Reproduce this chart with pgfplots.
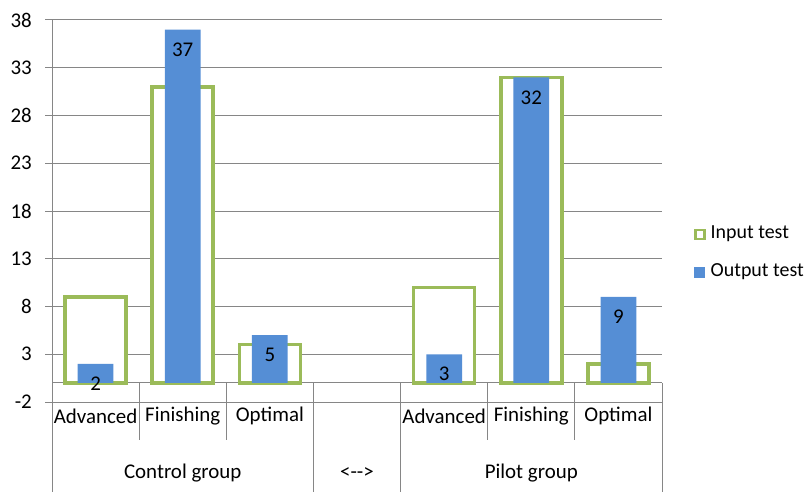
\documentclass[border=0pt]{standalone}
\usepackage{fontspec}
\setmainfont{Carlito}
\usepackage{pgfplots}
\pgfplotsset{compat=1.18}
\definecolor{ingreen}{RGB}{155,187,89}
\definecolor{outblue}{RGB}{85,142,213}
\definecolor{gridgray}{RGB}{134,134,134}
\begin{document}
\fontsize{21}{25}\selectfont
\begin{tikzpicture}
\begin{axis}[
  scale only axis,
  width=610bp, height=382bp,
  xmin=-0.5, xmax=6.5,
  ymin=-2, ymax=38,
  ytick={-2,3,8,13,18,23,28,33,38},
  xtick=\empty,
  ymajorgrids,
  grid style={gridgray, line width=1bp},
  axis line style={draw=none},
  tick pos=left,
  tick align=outside,
  major tick length=7bp,
  every tick/.style={gridgray, line width=1bp},
  /pgf/number format/assume math mode=true,
  tick label style={font=\fontsize{21}{25}\selectfont},
  yticklabel style={xshift=-6bp},
  clip=false,
  bar shift=0pt,
  legend style={at={(axis description cs:1.0,0.39)}, anchor=west, draw=none,
    font=\fontsize{20}{24}\selectfont, row sep=18bp, inner sep=0pt, xshift=32bp},
  legend cell align=left,
]
% category axis lines
\draw[gridgray, line width=1bp] (axis cs:-0.5,0) -- (axis cs:6.5,0);
\draw[gridgray, line width=1bp] (axis cs:-0.5,38) -- ([yshift=-92bp]axis cs:-0.5,-2);
\pgfplotsinvokeforeach{2.5,3.5,6.5}{
  \draw[gridgray, line width=1bp] (axis cs:#1,0) -- ([yshift=-92bp]axis cs:#1,-2);
}
\pgfplotsinvokeforeach{0.5,1.5,4.5,5.5}{
  \draw[gridgray, line width=1bp] (axis cs:#1,0) -- ([yshift=-38bp]axis cs:#1,-2);
}
\addplot[ybar, bar width=0.70, draw=ingreen, line width=3.5bp, fill=white,
  legend image code/.code={\draw[ingreen, line width=2.5bp, fill=white] (1.5bp,-5bp) rectangle (10.5bp,4bp);\path (13bp,0);}]
  coordinates {(0,9) (1,31) (2,4) (4,10) (5,32) (6,2)};
\addlegendentry{Input test}
\addplot[ybar, bar width=0.41, draw=none, fill=outblue,
  nodes near coords,
  every node near coord/.append style={anchor=center, yshift=-20bp, font=\fontsize{21}{25}\selectfont, text=black},
  legend image code/.code={\fill[outblue] (0.5bp,-6bp) rectangle (11.5bp,5bp);\path (13bp,0);}]
  coordinates {(0,2) (1,37) (2,5) (4,3) (5,32) (6,9)};
\addlegendentry{Output test}
% category labels
\node[anchor=center] at ([yshift=-14bp]axis cs:0,-2) {Advanced};
\node[anchor=center] at ([yshift=-14bp]axis cs:1,-2) {Finishing};
\node[anchor=center] at ([yshift=-14bp]axis cs:2,-2) {Optimal};
\node[anchor=center] at ([yshift=-14bp]axis cs:4,-2) {Advanced};
\node[anchor=center] at ([yshift=-14bp]axis cs:5,-2) {Finishing};
\node[anchor=center] at ([yshift=-14bp]axis cs:6,-2) {Optimal};
\node[anchor=center] at ([yshift=-71bp]axis cs:1,-2) {Control group};
\node[anchor=center] at ([yshift=-71bp]axis cs:3,-2) {<-{}->};
\node[anchor=center] at ([yshift=-71bp]axis cs:5,-2) {Pilot group};
\end{axis}
\pgfresetboundingbox
\path (-52bp,-90bp) rectangle (756bp,402bp);
\end{tikzpicture}
\end{document}
